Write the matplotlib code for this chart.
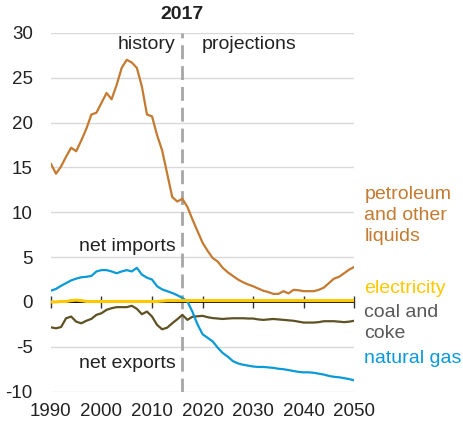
import matplotlib
matplotlib.use("Agg")
import matplotlib.pyplot as plt
import numpy as np

plt.rcParams["font.family"] = ["Liberation Sans", "DejaVu Sans"]

# Net imports by fuel, quadrillion Btu (history + projections)
years = np.arange(1990, 2051)

petroleum = [
    15.4, 14.3, 15.1, 16.2, 17.2, 16.8, 18.0, 19.3, 20.9, 21.1,
    22.2, 23.3, 22.6, 24.2, 26.1, 27.0, 26.7, 26.1, 24.0, 20.9,
    20.7, 18.6, 16.9, 14.3, 11.7, 11.2, 11.5,
    10.6, 9.2, 7.9, 6.6, 5.7, 4.9, 4.5, 3.8, 3.3, 2.9,
    2.5, 2.2, 1.95, 1.75, 1.5, 1.25, 1.1, 0.9, 0.9, 1.2,
    0.95, 1.35, 1.3, 1.2, 1.2, 1.2, 1.35, 1.6, 2.1, 2.6,
    2.8, 3.2, 3.6, 3.9,
]
electricity = [
    0.0, 0.0, 0.05, 0.05, 0.15, 0.2, 0.15, 0.05, 0.05, 0.05,
    0.05, 0.05, 0.05, 0.05, 0.05, 0.05, 0.05, 0.05, 0.05, 0.05,
    0.05, 0.05, 0.1, 0.15, 0.15, 0.15, 0.15,
    0.15, 0.15, 0.15, 0.15, 0.15, 0.15, 0.15, 0.15, 0.15, 0.15,
    0.15, 0.15, 0.15, 0.15, 0.15, 0.15, 0.15, 0.15, 0.15, 0.15,
    0.15, 0.15, 0.15, 0.15, 0.15, 0.15, 0.15, 0.15, 0.15, 0.15,
    0.15, 0.15, 0.15, 0.15,
]
coal = [
    -2.83, -2.94, -2.8, -1.82, -1.63, -2.2, -2.38, -2.1, -1.89, -1.44,
    -1.26, -0.88, -0.7, -0.58, -0.58, -0.58, -0.43, -0.77, -1.37, -1.07,
    -1.63, -2.56, -3.05, -2.87, -2.38, -1.93, -1.44,
    -2.0, -1.65, -1.6, -1.55, -1.7, -1.8, -1.85, -1.9, -1.85, -1.82,
    -1.82, -1.82, -1.85, -1.85, -1.95, -2.0, -1.95, -1.9, -1.95, -2.0,
    -2.05, -2.1, -2.2, -2.3, -2.3, -2.3, -2.25, -2.15, -2.15, -2.15,
    -2.2, -2.25, -2.2, -2.1,
]
natural_gas = [
    1.26, 1.45, 1.8, 2.1, 2.4, 2.6, 2.75, 2.8, 2.9, 3.4,
    3.55, 3.55, 3.4, 3.2, 3.4, 3.55, 3.4, 3.8, 3.05, 2.7,
    2.5, 1.75, 1.4, 1.2, 1.0, 0.75, 0.45,
    0.05, -1.1, -2.5, -3.6, -4.0, -4.4, -5.1, -5.7, -6.1, -6.6,
    -6.85, -7.0, -7.1, -7.2, -7.25, -7.25, -7.3, -7.35, -7.45, -7.5,
    -7.6, -7.7, -7.8, -7.85, -7.85, -7.9, -8.0, -8.1, -8.25, -8.35,
    -8.4, -8.5, -8.6, -8.75,
]

history_end = 2016
history_label = "2017"
xticks = [1990, 2000, 2010, 2020, 2030, 2040, 2050]
yticks = [-10, -5, 0, 5, 10, 15, 20, 25, 30]

c_pet = "#C47A30"
c_elec = "#FFC800"
c_coal = "#5E5124"
c_coal_text = "#595959"
c_gas = "#0A9AD7"

fig = plt.figure(figsize=(4.63, 4.22), dpi=100)
ax = fig.add_axes([0.110, 0.072, 0.655, 0.850])

# grid
for y in yticks:
    if y != 0:
        ax.axhline(y, color="#D9D9D9", linewidth=1, zorder=0)

# history / projections divider
ax.vlines(history_end, -10, 30, color="#A6A6A6", linewidth=2,
          linestyles=(0, (5, 2.5)), zorder=1)

ax.axhline(0, color="black", linewidth=1.3, zorder=2)

ax.plot(years, petroleum, color=c_pet, linewidth=1.6, zorder=3)
ax.plot(years, coal, color=c_coal, linewidth=1.6, zorder=3)
ax.plot(years, natural_gas, color=c_gas, linewidth=1.6, zorder=3)
ax.plot(years, electricity, color=c_elec, linewidth=2.2, zorder=4)

ax.set_xlim(1990, 2050)
ax.set_ylim(-10, 30)

for s in ax.spines.values():
    s.set_visible(False)

ax.set_yticks(yticks)
ax.set_yticklabels([str(v) for v in yticks])
ax.tick_params(axis="y", length=0, pad=13, labelsize=13.5, labelcolor="#222222")
ax.set_xticks(xticks)
ax.set_xticklabels([str(v) for v in xticks])
ax.tick_params(axis="x", length=0, pad=8.5, labelsize=13.5, labelcolor="#222222")

# tick marks on the zero line
zero_ax = ax.secondary_xaxis(0, transform=ax.transData)
zero_ax.set_xticks(xticks)
zero_ax.set_xticklabels([])
zero_ax.tick_params(axis="x", direction="inout", length=8, width=1, color="#333333")
zero_ax.spines["bottom"].set_visible(False)

# annotations
tkw = dict(fontsize=14, color="#222222", va="center")
ax.text(history_end, 32.1, history_label, fontsize=14, fontweight="bold",
        ha="center", va="center", color="#222222")
ax.text(history_end - 1.4, 28.7, "history", ha="right", **tkw)
ax.text(history_end + 3.9, 28.7, "projections", ha="left", **tkw)
ax.text(history_end - 1.4, 6.2, "net imports", ha="right", **tkw)
ax.text(history_end - 1.4, -6.9, "net exports", ha="right", **tkw)

lkw = dict(fontsize=14, va="center", ha="left", clip_on=False, linespacing=1.3)
ax.text(2052, 9.6, "petroleum\nand other\nliquids", color=c_pet, **lkw)
ax.text(2052, 1.5, "electricity", color=c_elec, **lkw)
ax.text(2052, -2.3, "coal and\ncoke", color=c_coal_text, **lkw)
ax.text(2052, -6.35, "natural gas", color=c_gas, **lkw)

fig.savefig("out.png", dpi=100)
